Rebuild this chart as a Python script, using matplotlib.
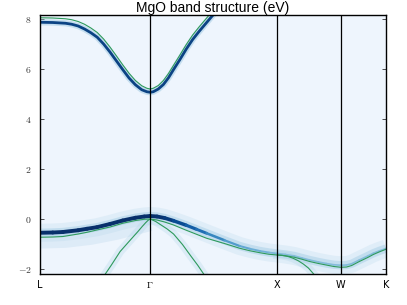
import numpy as np
import matplotlib
matplotlib.use("Agg")
import matplotlib.pyplot as plt
from matplotlib.collections import LineCollection

plt.rcParams['mathtext.fontset'] = 'cm'

# high-symmetry points
k_nodes = [0.0, 0.866, 1.866, 2.366, 2.720]
k_labels = ['L', r'$\Gamma$', 'X', 'W', 'K']
e_ticks = [-2, 0, 2, 4, 6, 8]

# conduction band
cb_k = [0, 0.1, 0.2, 0.25, 0.3, 0.35, 0.4, 0.45, 0.5, 0.55, 0.6, 0.65, 0.7,
        0.75, 0.8, 0.84, 0.866, 0.89, 0.93, 0.97, 1.01, 1.05, 1.10, 1.15,
        1.20, 1.25, 1.30, 1.35, 1.40]
cb_spec = [7.87, 7.86, 7.83, 7.79, 7.72, 7.60, 7.45, 7.27, 7.00, 6.68, 6.33,
           5.98, 5.64, 5.37, 5.17, 5.09, 5.07, 5.09, 5.20, 5.38, 5.65, 5.98,
           6.38, 6.80, 7.18, 7.50, 7.80, 8.10, 8.40]
cb_dft = [8.05, 8.04, 8.01, 7.97, 7.90, 7.79, 7.64, 7.46, 7.20, 6.88, 6.53,
          6.17, 5.83, 5.54, 5.33, 5.23, 5.20, 5.23, 5.34, 5.54, 5.82, 6.15,
          6.56, 6.98, 7.36, 7.68, 7.98, 8.28, 8.58]

# top valence band
vb_k = [0, 0.1, 0.18, 0.3, 0.37, 0.446, 0.55, 0.65, 0.75, 0.82, 0.866, 0.92,
        0.98, 1.05, 1.15, 1.23, 1.31, 1.45, 1.57, 1.65, 1.73, 1.8, 1.866,
        1.93, 2.0, 2.06, 2.12, 2.19, 2.25, 2.31, 2.366, 2.41, 2.45, 2.51,
        2.58, 2.62, 2.67, 2.72]
vb_dft = [-0.73, -0.72, -0.70, -0.60, -0.53, -0.44, -0.32, -0.17, -0.06,
          -0.01, 0.00, -0.04, -0.12, -0.24, -0.45, -0.61, -0.77, -0.98,
          -1.17, -1.27, -1.35, -1.41, -1.44, -1.47, -1.53, -1.61, -1.70,
          -1.78, -1.84, -1.90, -1.93, -1.92, -1.86, -1.70, -1.53, -1.42,
          -1.31, -1.21]
vb_spec = [-0.55, -0.54, -0.52, -0.45, -0.39, -0.33, -0.20, -0.06, 0.05,
           0.10, 0.12, 0.10, 0.04, -0.07, -0.25, -0.41, -0.57, -0.85, -1.08,
           -1.19, -1.28, -1.34, -1.38, -1.42, -1.48, -1.56, -1.64, -1.72,
           -1.78, -1.83, -1.85, -1.84, -1.79, -1.64, -1.47, -1.37, -1.27,
           -1.18]
vb_sharp = [1.0, 1.0, 1.0, 1.0, 1.0, 1.0, 1.0, 1.0, 1.0, 1.0, 1.0, 1.0, 0.95,
            0.9, 0.8, 0.7, 0.6, 0.45, 0.35, 0.3, 0.28, 0.25, 0.22, 0.2, 0.2,
            0.2, 0.2, 0.2, 0.2, 0.2, 0.2, 0.2, 0.2, 0.2, 0.2, 0.2, 0.2, 0.2]

# second valence band (from Gamma)
vb2_k = [0.50, 0.56, 0.63, 0.71, 0.77, 0.80, 0.83, 0.85, 0.866, 0.88, 0.91,
         0.94, 1.0, 1.05, 1.12, 1.18, 1.24, 1.30]
vb2_dft = [-2.30, -1.85, -1.30, -0.84, -0.50, -0.32, -0.15, -0.05, 0.00,
           -0.03, -0.10, -0.20, -0.40, -0.60, -1.02, -1.44, -1.85, -2.30]

# third valence band (from X)
vb3_k = [1.866, 1.90, 1.95, 1.99, 2.03, 2.07, 2.11, 2.16]
vb3_dft = [-1.44, -1.45, -1.50, -1.57, -1.67, -1.80, -1.96, -2.25]

# broad weight below the top valence band
cloud_k = [0, 0.2, 0.4, 0.6, 0.75, 0.866]
cloud_e = [-0.85, -0.82, -0.7, -0.5, -0.3, -0.15]

blues = plt.cm.Blues
green = '#2e9a5c'

fig = plt.figure(figsize=(4.07, 3.05), dpi=100)
ax = fig.add_axes([0.0983, 0.1016, 0.8501, 0.8492])
ax.set_facecolor('#eef5fd')

# spectral function glow
ax.plot(cloud_k, cloud_e, color=blues(0.3), lw=12, alpha=0.3, solid_capstyle='butt')
ax.plot(vb_k, vb_spec, color=blues(0.35), lw=13, alpha=0.2, solid_capstyle='butt')
ax.plot(vb_k, vb_spec, color=blues(0.45), lw=6, alpha=0.3, solid_capstyle='butt')
ax.plot(vb2_k, vb2_dft, color=blues(0.35), lw=6, alpha=0.25)
ax.plot(vb3_k, vb3_dft, color=blues(0.35), lw=6, alpha=0.25)
ax.plot(cb_k, cb_spec, color=blues(0.4), lw=4.5, alpha=0.45)

pts = np.column_stack([vb_k, vb_spec])
segs = np.stack([pts[:-1], pts[1:]], axis=1)
s = 0.5 * (np.array(vb_sharp[:-1]) + np.array(vb_sharp[1:]))
lc = LineCollection(segs, colors=[blues(0.3 + 0.7 * v) for v in s],
                    linewidths=0.8 + 2.0 * s, capstyle='round')
ax.add_collection(lc)
ax.plot(cb_k, cb_spec, color='#0b4384', lw=2.0)

# DFT bands
for kk, ee in [(cb_k, cb_dft), (vb_k, vb_dft), (vb2_k, vb2_dft), (vb3_k, vb3_dft)]:
    ax.plot(kk, ee, color=green, lw=0.8)

for kn in k_nodes[1:-1]:
    ax.axvline(kn, color='black', lw=0.9)

ax.set_xlim(k_nodes[0], k_nodes[-1])
ax.set_ylim(-2.2, 8.16)
ax.set_xticks(k_nodes)
ax.set_xticklabels(k_labels, fontsize=7)
ax.set_yticks(e_ticks)
ax.set_yticklabels(['$%d$' % v if v >= 0 else r'$-%d$' % -v for v in e_ticks], fontsize=7)
ax.tick_params(axis='y', direction='in', left=True, right=True, length=3, width=0.6, pad=6, colors='#333333')
ax.tick_params(axis='x', length=0, pad=4)
for sp in ax.spines.values():
    sp.set_linewidth(1.0)
ax.set_title('MgO band structure (eV)', family='Liberation Sans', fontsize=10, pad=2)

fig.savefig('out.png', dpi=100)
